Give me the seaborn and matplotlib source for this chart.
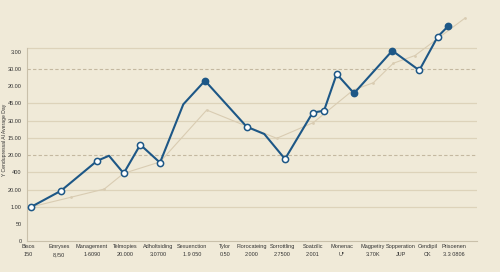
import numpy as np
import pandas as pd
import matplotlib
matplotlib.use("Agg")
import matplotlib.pyplot as plt
import seaborn as sns

# category labels along the x axis (name + figure underneath)
cat_names = ["Bisos", "Emryses", "Management", "Telmopies", "Adholtsiding", "Sexuenction", "Tylor",
             "Florocateing", "Sorrottling", "Soatzilic", "Monenac", "Magpetiry", "Sopperation",
             "Cendipil", "Prisoenen"]
cat_values = ["150", "8,/50", "1·6090", "20.000", "3.0700", "1.9 050", "0.50", "2.000", "2.7500",
              "2.001", "U*", "3.70K", "JUP", "CK", "3.3 0806"]
cat_pos = [0, 31, 64, 97.5, 130, 164, 197, 224, 254, 285, 314, 345, 373, 400, 426]

ytick_labels = ["0", "50", "1.00", "20.00", "400", "20.00", "15.00", "30.00", "45.00",
                "20.00", "30.00", "3.00"]

# main series
main_x = [3, 33, 69, 81, 95.7, 112.3, 132, 155.3, 177, 218.7, 236.3, 257, 284.7, 296, 308.7,
          326, 364.3, 391.3, 409.7, 420.3]
main_y = [1.99, 2.93, 4.66, 4.96, 3.94, 5.60, 4.56, 7.94, 9.31, 6.64, 6.22, 4.77, 7.46, 7.57,
          9.70, 8.58, 11.05, 9.91, 11.86, 12.48]
point_kind = ["open", "open", "open", "none", "open", "open", "open", "none", "filled", "open",
              "none", "open", "open", "open", "open", "filled", "filled", "open", "open", "filled"]

# trend series
trend_x = [3, 42.7, 76.3, 95.7, 132, 178.7, 248.7, 285.3, 325.3, 345.3, 365.3, 387, 408.7, 437]
trend_y = [1.99, 2.55, 3.03, 3.94, 4.60, 7.61, 5.97, 6.88, 8.77, 9.19, 10.32, 10.77, 11.71, 12.94]

main = pd.DataFrame({"x": main_x, "y": main_y, "kind": point_kind})
trend = pd.DataFrame({"x": trend_x, "y": trend_y})

bg = "#f0ead8"
blue = "#1d5786"
sns.set_style("white")
plt.rcParams["font.family"] = ["Liberation Sans", "DejaVu Sans"]

fig = plt.figure(figsize=(5, 2.72), dpi=100, facecolor=bg)
ax = fig.add_axes([27 / 500, 1 - 241.3 / 272, 450 / 500, 241.3 / 272])
ax.set_facecolor(bg)

for v in [2, 3, 4, 6, 7, 8, 11.2]:
    ax.axhline(v, color="#ddd3ba", lw=0.9, zorder=0)
for v in [5, 10]:
    ax.axhline(v, color="#c4b8a0", lw=0.8, ls=(0, (3, 2)), zorder=0)

sns.lineplot(data=trend, x="x", y="y", ax=ax, color="#d9ccb2", lw=0.8, marker="o",
             markersize=2, markeredgewidth=0, sort=False, zorder=1)
sns.lineplot(data=main, x="x", y="y", ax=ax, color=blue, lw=1.5, sort=False, zorder=2)
opens = main[main["kind"] == "open"]
filled = main[main["kind"] == "filled"]
sns.scatterplot(data=opens, x="x", y="y", ax=ax, s=20, facecolor="white", edgecolor=blue,
                linewidth=1.1, zorder=3)
sns.scatterplot(data=filled, x="x", y="y", ax=ax, s=20, color=blue, edgecolor=blue,
                linewidth=1.1, zorder=3)

ax.set_xlim(-1, 449)
ax.set_ylim(0, 241.3 / 17.25)

ax.set_xticks(cat_pos)
ax.set_xticklabels([f"{n}\n{v}" for n, v in zip(cat_names, cat_values)], fontsize=4,
                   color="#333333", linespacing=1.7)
ax.set_yticks(range(len(ytick_labels)))
ax.set_yticklabels(ytick_labels, fontsize=4, color="#333333")
ax.tick_params(axis="x", direction="in", length=2.5, width=0.6, color="#bbb3a0", pad=2)
ax.tick_params(axis="y", direction="out", length=2, width=0.6, color="#9a937f", pad=2)

for side in ["top", "right"]:
    ax.spines[side].set_visible(False)
for side in ["left", "bottom"]:
    ax.spines[side].set_color("#c9c0aa")
    ax.spines[side].set_linewidth(0.8)
ax.spines["left"].set_bounds(0, 11.2)

ax.set_xlabel("")
ax.set_ylabel("Y Cendupressal Al Average Day", fontsize=3.6, color="#333333")
ax.yaxis.set_label_coords(-0.045, 0.42)

fig.savefig("out.png", dpi=100, facecolor=bg)
